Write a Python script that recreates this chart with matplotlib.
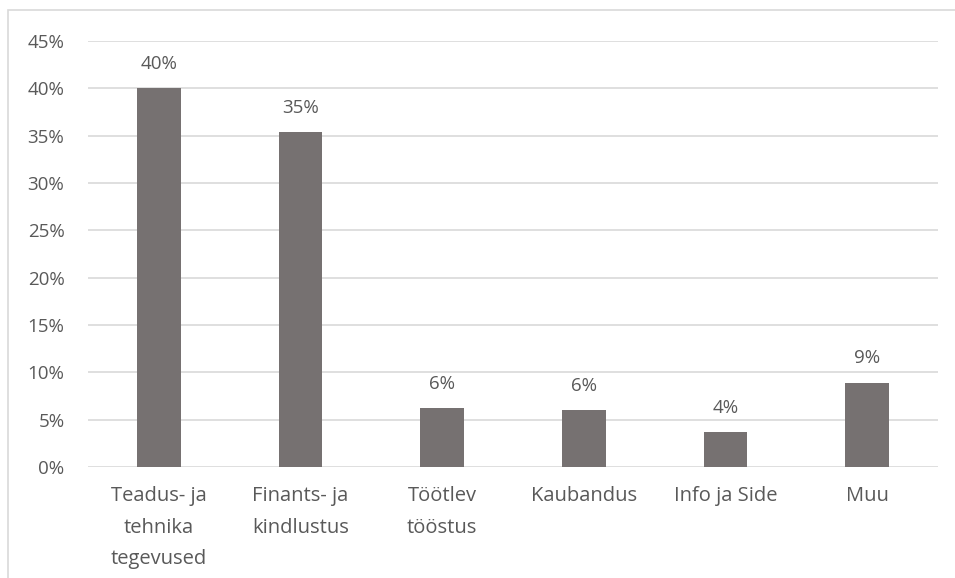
import matplotlib.pyplot as plt
from matplotlib.patches import Rectangle
from matplotlib.ticker import MultipleLocator, FuncFormatter

# andmed (loetud pildilt)
kategooriad = ['Teadus- ja\ntehnika\ntegevused', 'Finants- ja\nkindlustus', 'Töötlev\ntööstus',
               'Kaubandus', 'Info ja Side', 'Muu']
osakaalud = [40.0, 35.4, 6.2, 6.0, 3.7, 8.9]
sildid = ['40%', '35%', '6%', '6%', '4%', '9%']

plt.rcParams['font.family'] = ['Open Sans', 'DejaVu Sans']
tekst = '#595959'

fig = plt.figure(figsize=(9.55, 5.78), dpi=100)
ax = fig.add_axes([88 / 955, 1 - 467 / 578, 850 / 955, 426 / 578])

x = range(len(kategooriad))
ax.bar(x, osakaalud, width=0.31, color='#767171', zorder=3)

for i, (v, s) in enumerate(zip(osakaalud, sildid)):
    ax.annotate(s, (i, v), xytext=(0, 11), textcoords='offset points',
                ha='center', va='bottom', fontsize=13.5, color=tekst)

ax.set_xlim(-0.5, len(kategooriad) - 0.5)
ax.set_ylim(0, 45)
ax.yaxis.set_major_locator(MultipleLocator(5))
ax.yaxis.set_major_formatter(FuncFormatter(lambda v, p: f'{v:.0f}%'))
ax.grid(axis='y', color='#d9d9d9', linewidth=1.2, zorder=0)
ax.set_xticks(list(x))
ax.set_xticklabels(kategooriad, fontsize=14.5, color=tekst, linespacing=1.75)
ax.tick_params(axis='y', length=0, pad=17, labelsize=13.5, labelcolor=tekst)
ax.tick_params(axis='x', length=0, pad=14)
for sp in ax.spines.values():
    sp.set_visible(False)

# diagrammi raam
fig.patches.append(Rectangle((8 / 955, -0.05), 1.1, 1 - 10 / 578 + 0.05,
                             transform=fig.transFigure, fill=False,
                             edgecolor='#d9d9d9', linewidth=1.2))

fig.savefig('out.png', dpi=100)
